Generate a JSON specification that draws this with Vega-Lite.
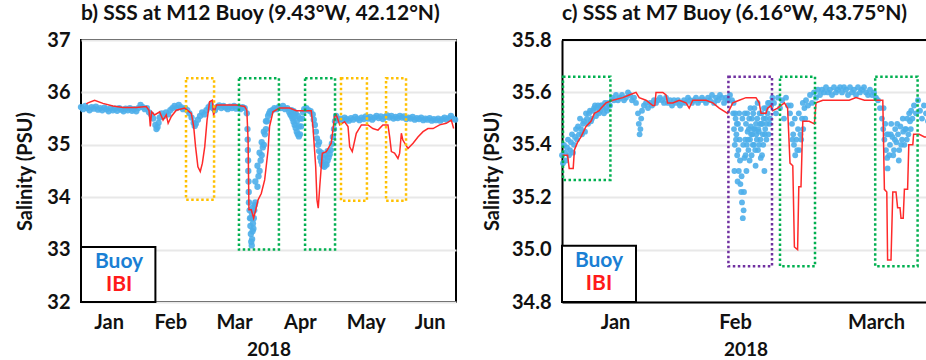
{
"$schema": "https://vega.github.io/schema/vega-lite/v6.json",
"padding": {"left": 14, "top": 2, "right": 0, "bottom": 0},
"spacing": 106,
"bounds": "flush",
"config": {
  "font": "Lato",
  "view": {"stroke": null},
  "axis": {"labelFont": "Lato", "labelFontWeight": "bold", "labelFontSize": 20, "labelColor": "#111", "titleFont": "Lato", "titleFontWeight": "bold", "titleColor": "#111", "ticks": false, "tickSize": 0, "domain": false, "grid": false},
  "title": {"font": "Lato", "fontWeight": "bold", "fontSize": 21, "color": "#111", "anchor": "start", "frame": "group", "offset": 6}
},
"datasets": {
  "buoyB": [
    {"day":0,"sss":35.72},{"day":1,"sss":35.68},{"day":2,"sss":35.74},{"day":3,"sss":35.70},{"day":4,"sss":35.66},{"day":5,"sss":35.72},{"day":6,"sss":35.69},{"day":7,"sss":35.73},{"day":8,"sss":35.67},{"day":9,"sss":35.70},
    {"day":10,"sss":35.66},{"day":11,"sss":35.71},{"day":12,"sss":35.68},{"day":13,"sss":35.64},{"day":14,"sss":35.70},{"day":15,"sss":35.66},{"day":16,"sss":35.69},{"day":17,"sss":35.65},{"day":18,"sss":35.70},{"day":19,"sss":35.67},
    {"day":20,"sss":35.64},{"day":21,"sss":35.69},{"day":22,"sss":35.66},{"day":23,"sss":35.70},{"day":24,"sss":35.65},{"day":25,"sss":35.68},{"day":26,"sss":35.64},{"day":27,"sss":35.70},{"day":28,"sss":35.76},{"day":29,"sss":35.72},
    {"day":30,"sss":35.68},{"day":31,"sss":35.70},{"day":32,"sss":35.62},{"day":33,"sss":35.58},{"day":34,"sss":35.50},{"day":35,"sss":35.38},{"day":35.5,"sss":35.30},{"day":36,"sss":35.34},{"day":36.5,"sss":35.42},{"day":37,"sss":35.52},
    {"day":38,"sss":35.60},{"day":39,"sss":35.55},{"day":40,"sss":35.62},{"day":41,"sss":35.58},{"day":42,"sss":35.66},{"day":43,"sss":35.70},{"day":44,"sss":35.74},{"day":45,"sss":35.70},{"day":46,"sss":35.76},{"day":47,"sss":35.72},
    {"day":48,"sss":35.68},{"day":49,"sss":35.70},{"day":50,"sss":35.66},{"day":51,"sss":35.60},{"day":52,"sss":35.52},{"day":53,"sss":35.42},{"day":53.5,"sss":35.36},{"day":54,"sss":35.40},{"day":55,"sss":35.48},{"day":56,"sss":35.55},
    {"day":57,"sss":35.62},{"day":58,"sss":35.58},{"day":59,"sss":35.66},{"day":60,"sss":35.72},{"day":61,"sss":35.76},{"day":62,"sss":35.70},{"day":63,"sss":35.66},{"day":64,"sss":35.72},{"day":65,"sss":35.75},{"day":66,"sss":35.70},
    {"day":67,"sss":35.74},{"day":68,"sss":35.71},{"day":69,"sss":35.68},{"day":70,"sss":35.73},{"day":71,"sss":35.70},{"day":72,"sss":35.74},{"day":73,"sss":35.69},{"day":74,"sss":35.72},{"day":75,"sss":35.68},{"day":76,"sss":35.72},
    {"day":77,"sss":35.70},{"day":78,"sss":35.60},{"day":78.3,"sss":35.30},{"day":78.4,"sss":35.10},{"day":78.5,"sss":34.90},{"day":78.6,"sss":34.70},{"day":78.7,"sss":34.50},{"day":78.8,"sss":34.30},{"day":78.9,"sss":34.10},
    {"day":79,"sss":33.90},{"day":79.3,"sss":33.75},{"day":79.5,"sss":33.60},{"day":79.7,"sss":33.45},{"day":79.9,"sss":33.30},{"day":80.1,"sss":33.15},{"day":80.3,"sss":33.08},{"day":80.5,"sss":33.20},{"day":80.7,"sss":33.35},{"day":80.9,"sss":33.50},
    {"day":81.1,"sss":33.40},{"day":81.3,"sss":33.60},{"day":81.5,"sss":33.75},{"day":81.7,"sss":33.85},{"day":80,"sss":33.60},{"day":80.4,"sss":33.70},{"day":80.8,"sss":33.80},
    {"day":82,"sss":33.90},{"day":82,"sss":34.30},{"day":83,"sss":34.20},{"day":83,"sss":34.60},{"day":83.5,"sss":34.40},{"day":84,"sss":34.50},{"day":84,"sss":34.85},{"day":84.5,"sss":34.70},{"day":85,"sss":34.80},{"day":85,"sss":35.05},
    {"day":85.5,"sss":34.95},{"day":86,"sss":35.00},{"day":86,"sss":35.25},{"day":86.5,"sss":35.20},{"day":87,"sss":35.30},{"day":87,"sss":35.45},{"day":87.5,"sss":35.45},{"day":88,"sss":35.55},{"day":88.5,"sss":35.60},{"day":89,"sss":35.64},
    {"day":90,"sss":35.66},{"day":91,"sss":35.70},{"day":92,"sss":35.68},{"day":93,"sss":35.72},{"day":94,"sss":35.70},{"day":95,"sss":35.74},{"day":96,"sss":35.68},{"day":97,"sss":35.70},{"day":98,"sss":35.62},{"day":98.5,"sss":35.58},
    {"day":99,"sss":35.55},{"day":99.5,"sss":35.50},{"day":100,"sss":35.44},{"day":100.5,"sss":35.38},{"day":101,"sss":35.32},{"day":101.5,"sss":35.25},{"day":102,"sss":35.20},{"day":102.5,"sss":35.16},{"day":103,"sss":35.20},{"day":103.5,"sss":35.35},
    {"day":99,"sss":35.66},{"day":100,"sss":35.64},{"day":101,"sss":35.60},{"day":102,"sss":35.55},{"day":103,"sss":35.50},{"day":100.5,"sss":35.55},{"day":101.5,"sss":35.45},{"day":102.5,"sss":35.35},
    {"day":104,"sss":35.50},{"day":104.5,"sss":35.62},{"day":105,"sss":35.68},{"day":106,"sss":35.70},{"day":107,"sss":35.66},{"day":108,"sss":35.64},{"day":109,"sss":35.58},{"day":109.5,"sss":35.48},{"day":110,"sss":35.38},{"day":110.5,"sss":35.25},
    {"day":111,"sss":35.12},{"day":111.5,"sss":35.00},{"day":112,"sss":34.88},{"day":112.5,"sss":34.76},{"day":113,"sss":34.68},{"day":113.5,"sss":34.62},{"day":114,"sss":34.60},{"day":114.5,"sss":34.58},{"day":115,"sss":34.64},{"day":115.5,"sss":34.62},
    {"day":112,"sss":35.05},{"day":113,"sss":34.85},{"day":114,"sss":34.75},{"day":115,"sss":34.80},{"day":116,"sss":34.88},
    {"day":116,"sss":34.70},{"day":116.5,"sss":34.76},{"day":117,"sss":34.82},{"day":117.5,"sss":34.90},{"day":118,"sss":35.02},{"day":118.5,"sss":35.15},{"day":119,"sss":35.30},{"day":119.5,"sss":35.45},{"day":120,"sss":35.55},{"day":121,"sss":35.48},
    {"day":122,"sss":35.50},{"day":123,"sss":35.47},{"day":124,"sss":35.52},{"day":125,"sss":35.49},{"day":126,"sss":35.46},{"day":127,"sss":35.51},{"day":128,"sss":35.48},{"day":129,"sss":35.53},{"day":130,"sss":35.50},{"day":131,"sss":35.47},
    {"day":132,"sss":35.52},{"day":133,"sss":35.49},{"day":134,"sss":35.54},{"day":135,"sss":35.50},{"day":136,"sss":35.53},{"day":137,"sss":35.48},{"day":138,"sss":35.52},{"day":139,"sss":35.55},{"day":140,"sss":35.51},{"day":141,"sss":35.54},
    {"day":142,"sss":35.49},{"day":143,"sss":35.53},{"day":144,"sss":35.56},{"day":145,"sss":35.52},{"day":146,"sss":35.55},{"day":147,"sss":35.50},{"day":148,"sss":35.53},{"day":149,"sss":35.51},{"day":150,"sss":35.55},{"day":151,"sss":35.52},
    {"day":152,"sss":35.54},{"day":153,"sss":35.49},{"day":154,"sss":35.52},{"day":155,"sss":35.50},{"day":156,"sss":35.53},{"day":157,"sss":35.48},{"day":158,"sss":35.51},{"day":159,"sss":35.49},{"day":160,"sss":35.52},{"day":161,"sss":35.47},
    {"day":162,"sss":35.50},{"day":163,"sss":35.48},{"day":164,"sss":35.51},{"day":165,"sss":35.46},{"day":166,"sss":35.49},{"day":167,"sss":35.47},{"day":168,"sss":35.50},{"day":169,"sss":35.46},{"day":170,"sss":35.49},{"day":171,"sss":35.52},
    {"day":172,"sss":35.48},{"day":173,"sss":35.51},{"day":174,"sss":35.55},{"day":175,"sss":35.50},{"day":176,"sss":35.48}
  ],
  "ibiB": [
    {"day":2.5,"sss":35.78},{"day":3.3,"sss":35.80},{"day":6.4,"sss":35.85},{"day":10.3,"sss":35.79},{"day":15,"sss":35.74},{"day":19.8,"sss":35.71},{"day":26,"sss":35.71},{"day":30.7,"sss":35.73},{"day":32,"sss":35.66},{"day":32.6,"sss":35.35},
    {"day":33.2,"sss":35.63},{"day":34.6,"sss":35.57},{"day":37,"sss":35.63},{"day":38.6,"sss":35.47},{"day":40.1,"sss":35.57},{"day":41,"sss":35.41},{"day":42.5,"sss":35.54},{"day":44.8,"sss":35.66},{"day":48.8,"sss":35.70},{"day":51.9,"sss":35.60},
    {"day":53,"sss":35.35},{"day":53.9,"sss":34.96},{"day":55,"sss":34.58},{"day":56.1,"sss":34.49},{"day":57.1,"sss":34.65},{"day":58.2,"sss":34.96},{"day":59.3,"sss":35.47},{"day":60.5,"sss":35.82},{"day":61.8,"sss":35.85},{"day":62.4,"sss":35.55},
    {"day":62.9,"sss":35.66},{"day":63.7,"sss":35.76},{"day":66.8,"sss":35.76},{"day":73,"sss":35.76},{"day":77,"sss":35.73},{"day":78,"sss":35.66},{"day":78.6,"sss":35.09},{"day":79,"sss":33.76},{"day":80.1,"sss":33.76},{"day":81.2,"sss":33.60},
    {"day":82.2,"sss":33.76},{"day":83.3,"sss":33.95},{"day":84.8,"sss":34.07},{"day":86.4,"sss":34.33},{"day":88,"sss":34.90},{"day":88.7,"sss":35.35},{"day":90.3,"sss":35.63},{"day":93.4,"sss":35.70},{"day":98.1,"sss":35.70},{"day":101.3,"sss":35.65},
    {"day":108.3,"sss":35.65},{"day":109.1,"sss":35.35},{"day":110.4,"sss":34.58},{"day":111,"sss":33.95},{"day":111.6,"sss":33.79},{"day":112.3,"sss":34.20},{"day":113.5,"sss":34.84},{"day":115.4,"sss":34.87},{"day":117.7,"sss":35.03},{"day":119.3,"sss":35.54},
    {"day":120.1,"sss":35.57},{"day":121.7,"sss":35.38},{"day":124,"sss":35.44},{"day":125.6,"sss":35.35},{"day":126.4,"sss":34.96},{"day":127.6,"sss":34.87},{"day":129.5,"sss":35.22},{"day":131.9,"sss":35.38},{"day":135,"sss":35.38},{"day":137.3,"sss":35.31},
    {"day":139.7,"sss":35.28},{"day":142,"sss":35.38},{"day":144.4,"sss":35.38},{"day":145.2,"sss":35.15},{"day":146,"sss":34.87},{"day":147.5,"sss":34.84},{"day":149.1,"sss":34.74},{"day":149.9,"sss":34.84},{"day":150.7,"sss":35.22},{"day":151.4,"sss":35.09},
    {"day":153.8,"sss":34.93},{"day":156.2,"sss":35.03},{"day":158.5,"sss":35.15},{"day":160.9,"sss":35.25},{"day":163.2,"sss":35.31},{"day":165.6,"sss":35.31},{"day":168.7,"sss":35.38},{"day":171.8,"sss":35.41},{"day":174.2,"sss":35.47},{"day":175.3,"sss":35.31}
  ],
  "boxesB": [
    {"set":"A","start":49.4,"end":62.6,"low":33.95,"high":36.27},
    {"set":"B","start":74.3,"end":93.1,"low":33.0,"high":36.27},
    {"set":"B","start":105.4,"end":119.5,"low":33.0,"high":36.27},
    {"set":"A","start":122.3,"end":134.5,"low":33.93,"high":36.27},
    {"set":"A","start":143.5,"end":152.9,"low":33.93,"high":36.27}
  ],
  "buoyC": [
    {"day":0,"sss":35.36},{"day":0.5,"sss":35.40},{"day":1,"sss":35.34},{"day":1.5,"sss":35.42},{"day":2,"sss":35.38},{"day":2.5,"sss":35.44},{"day":3,"sss":35.40},{"day":3.5,"sss":35.46},{"day":4,"sss":35.47},{"day":4.5,"sss":35.50},
    {"day":5,"sss":35.44},{"day":5.5,"sss":35.49},{"day":6,"sss":35.52},{"day":6.5,"sss":35.48},{"day":7,"sss":35.53},{"day":7.5,"sss":35.50},{"day":8,"sss":35.54},{"day":8.5,"sss":35.51},{"day":9,"sss":35.55},{"day":9.5,"sss":35.53},
    {"day":0.25,"sss":35.33},{"day":0.75,"sss":35.37},{"day":1.25,"sss":35.39},{"day":1.75,"sss":35.36},{"day":2.25,"sss":35.41},{"day":2.75,"sss":35.37},{"day":3.25,"sss":35.43},{"day":3.75,"sss":35.42},{"day":4.25,"sss":35.44},{"day":4.75,"sss":35.46},
    {"day":5.25,"sss":35.48},{"day":5.75,"sss":35.45},{"day":6.25,"sss":35.50},{"day":6.75,"sss":35.52},{"day":7.25,"sss":35.49},{"day":7.75,"sss":35.53},{"day":8.25,"sss":35.55},{"day":8.75,"sss":35.54},{"day":9.25,"sss":35.52},{"day":9.75,"sss":35.55},
    {"day":10.25,"sss":35.54},{"day":10.75,"sss":35.56},{"day":11.25,"sss":35.53},{"day":11.75,"sss":35.55},
    {"day":10,"sss":35.55},{"day":10.5,"sss":35.52},{"day":11,"sss":35.54},{"day":11.5,"sss":35.56},{"day":12,"sss":35.55},{"day":12.5,"sss":35.58},{"day":13,"sss":35.57},{"day":13.5,"sss":35.59},{"day":14,"sss":35.57},{"day":14.5,"sss":35.58},
    {"day":15,"sss":35.59},{"day":15.5,"sss":35.57},{"day":16,"sss":35.58},{"day":16.5,"sss":35.60},{"day":17,"sss":35.59},{"day":17.5,"sss":35.57},{"day":18,"sss":35.58},{"day":18.5,"sss":35.56},{"day":19,"sss":35.52},{"day":19.2,"sss":35.48},
    {"day":19.4,"sss":35.44},{"day":19.6,"sss":35.46},{"day":19.8,"sss":35.50},{"day":20,"sss":35.53},{"day":20.5,"sss":35.55},{"day":21,"sss":35.56},{"day":21.5,"sss":35.54},{"day":22,"sss":35.56},{"day":22.5,"sss":35.55},{"day":23,"sss":35.57},
    {"day":23.5,"sss":35.56},{"day":24,"sss":35.57},{"day":24.5,"sss":35.58},{"day":25,"sss":35.57},{"day":25.5,"sss":35.56},{"day":26,"sss":35.58},{"day":26.5,"sss":35.56},{"day":27,"sss":35.57},{"day":27.5,"sss":35.55},{"day":28,"sss":35.57},
    {"day":28.5,"sss":35.56},{"day":29,"sss":35.57},{"day":29.5,"sss":35.55},{"day":30,"sss":35.56},{"day":30.5,"sss":35.57},{"day":31,"sss":35.56},{"day":31.5,"sss":35.58},{"day":32,"sss":35.57},{"day":32.5,"sss":35.56},{"day":33,"sss":35.57},
    {"day":33.5,"sss":35.58},{"day":34,"sss":35.56},{"day":34.5,"sss":35.57},{"day":35,"sss":35.58},{"day":35.5,"sss":35.57},{"day":36,"sss":35.56},{"day":36.5,"sss":35.58},{"day":37,"sss":35.57},{"day":37.5,"sss":35.59},{"day":38,"sss":35.56},
    {"day":38.5,"sss":35.58},{"day":39,"sss":35.57},{"day":39.5,"sss":35.59},{"day":40,"sss":35.58},{"day":40.5,"sss":35.56},{"day":41,"sss":35.58},{"day":41.5,"sss":35.57},{"day":42,"sss":35.59},{"day":42.5,"sss":35.57},
    {"day":42.8,"sss":35.52},{"day":43,"sss":35.46},{"day":43.2,"sss":35.40},{"day":43.4,"sss":35.50},{"day":43.6,"sss":35.44},{"day":43.8,"sss":35.36},{"day":44,"sss":35.48},{"day":44.2,"sss":35.30},{"day":44.4,"sss":35.42},{"day":44.6,"sss":35.25},
    {"day":44.8,"sss":35.22},{"day":45,"sss":35.18},{"day":45.2,"sss":35.12},{"day":45.4,"sss":35.15},{"day":45.6,"sss":35.35},{"day":45.8,"sss":35.42},{"day":46,"sss":35.48},{"day":46.2,"sss":35.40},{"day":46.4,"sss":35.45},{"day":46.6,"sss":35.38},
    {"day":46.8,"sss":35.50},{"day":47,"sss":35.42},{"day":47.2,"sss":35.47},{"day":47.4,"sss":35.36},{"day":47.6,"sss":35.44},{"day":47.8,"sss":35.52},{"day":48,"sss":35.40},{"day":48.2,"sss":35.46},{"day":48.4,"sss":35.32},{"day":48.6,"sss":35.44},
    {"day":48.8,"sss":35.50},{"day":49,"sss":35.38},{"day":49.2,"sss":35.45},{"day":49.4,"sss":35.52},{"day":49.6,"sss":35.42},{"day":49.8,"sss":35.48},{"day":50,"sss":35.36},{"day":50.2,"sss":35.44},{"day":50.4,"sss":35.50},{"day":50.6,"sss":35.30},
    {"day":50.8,"sss":35.46},{"day":51,"sss":35.54},{"day":51.2,"sss":35.48},{"day":51.4,"sss":35.52},{"day":51.6,"sss":35.44},{"day":51.8,"sss":35.56},{"day":52,"sss":35.50},{"day":52.3,"sss":35.55},{"day":52.6,"sss":35.58},
    {"day":42.9,"sss":35.56},{"day":43.1,"sss":35.30},{"day":43.3,"sss":35.52},{"day":43.5,"sss":35.42},{"day":43.7,"sss":35.48},{"day":43.9,"sss":35.26},{"day":44.1,"sss":35.38},{"day":44.3,"sss":35.52},{"day":44.5,"sss":35.34},{"day":44.7,"sss":35.46},
    {"day":44.9,"sss":35.28},{"day":45.1,"sss":35.50},{"day":45.3,"sss":35.40},{"day":45.5,"sss":35.22},{"day":45.7,"sss":35.52},{"day":45.9,"sss":35.36},{"day":46.1,"sss":35.30},{"day":46.3,"sss":35.52},{"day":46.5,"sss":35.42},{"day":46.7,"sss":35.46},
    {"day":46.9,"sss":35.34},{"day":47.1,"sss":35.54},{"day":47.3,"sss":35.44},{"day":47.5,"sss":35.50},{"day":47.7,"sss":35.40},{"day":47.9,"sss":35.46},{"day":48.1,"sss":35.54},{"day":48.3,"sss":35.38},{"day":48.5,"sss":35.48},{"day":48.7,"sss":35.42},
    {"day":48.9,"sss":35.56},{"day":49.1,"sss":35.46},{"day":49.3,"sss":35.40},{"day":49.5,"sss":35.48},{"day":49.7,"sss":35.35},{"day":49.9,"sss":35.52},{"day":50.1,"sss":35.48},{"day":50.3,"sss":35.40},{"day":50.5,"sss":35.54},{"day":50.7,"sss":35.44},
    {"day":50.9,"sss":35.50},{"day":51.1,"sss":35.42},{"day":51.5,"sss":35.56},{"day":51.9,"sss":35.48},
    {"day":53,"sss":35.56},{"day":53.5,"sss":35.52},{"day":54,"sss":35.58},{"day":54.5,"sss":35.54},{"day":55,"sss":35.57},{"day":55.5,"sss":35.50},{"day":56,"sss":35.58},{"day":56.5,"sss":35.55},{"day":57,"sss":35.52},{"day":57.5,"sss":35.48},
    {"day":57.8,"sss":35.44},{"day":58,"sss":35.40},{"day":58.3,"sss":35.36},{"day":58.6,"sss":35.42},{"day":59,"sss":35.46},{"day":59.3,"sss":35.38},{"day":59.6,"sss":35.44},{"day":60,"sss":35.50},{"day":60.3,"sss":35.46},{"day":60.6,"sss":35.54},
    {"day":57.2,"sss":35.55},{"day":57.6,"sss":35.42},{"day":58.2,"sss":35.50},{"day":58.8,"sss":35.38},{"day":59.2,"sss":35.52},{"day":59.8,"sss":35.42},{"day":60.2,"sss":35.56},{"day":60.8,"sss":35.50},
    {"day":61,"sss":35.57},{"day":61.5,"sss":35.55},{"day":62,"sss":35.59},{"day":62.5,"sss":35.56},{"day":63,"sss":35.60},{"day":63.5,"sss":35.58},{"day":64,"sss":35.61},{"day":64.5,"sss":35.59},{"day":65,"sss":35.61},{"day":65.5,"sss":35.60},
    {"day":66,"sss":35.62},{"day":66.5,"sss":35.60},{"day":67,"sss":35.61},{"day":67.5,"sss":35.59},{"day":68,"sss":35.62},{"day":68.5,"sss":35.60},{"day":69,"sss":35.61},{"day":69.5,"sss":35.62},{"day":70,"sss":35.60},{"day":70.5,"sss":35.62},
    {"day":71,"sss":35.61},{"day":71.5,"sss":35.59},{"day":72,"sss":35.62},{"day":72.5,"sss":35.60},{"day":73,"sss":35.61},{"day":73.5,"sss":35.59},{"day":74,"sss":35.62},{"day":74.5,"sss":35.60},{"day":75,"sss":35.61},{"day":75.5,"sss":35.62},
    {"day":76,"sss":35.60},{"day":76.5,"sss":35.59},{"day":77,"sss":35.61},{"day":77.5,"sss":35.59},{"day":78,"sss":35.60},{"day":78.5,"sss":35.58},{"day":79,"sss":35.57},{"day":79.5,"sss":35.54},{"day":80,"sss":35.50},{"day":80.3,"sss":35.46},
    {"day":80.6,"sss":35.42},{"day":81,"sss":35.38},{"day":81.3,"sss":35.35},{"day":81.6,"sss":35.44},{"day":82,"sss":35.40},{"day":82.3,"sss":35.48},{"day":82.6,"sss":35.43},{"day":83,"sss":35.38},{"day":83.3,"sss":35.46},{"day":83.6,"sss":35.41},
    {"day":84,"sss":35.44},{"day":84.3,"sss":35.38},{"day":84.6,"sss":35.47},{"day":85,"sss":35.42},{"day":85.3,"sss":35.45},{"day":85.6,"sss":35.40},{"day":86,"sss":35.46},{"day":86.3,"sss":35.50},{"day":86.6,"sss":35.44},{"day":87,"sss":35.49},
    {"day":80.4,"sss":35.54},{"day":80.8,"sss":35.48},{"day":81.2,"sss":35.44},{"day":81.4,"sss":35.31},{"day":81.8,"sss":35.36},{"day":82.2,"sss":35.44},{"day":82.8,"sss":35.36},{"day":83.2,"sss":35.42},{"day":83.8,"sss":35.48},{"day":84.2,"sss":35.34},
    {"day":84.8,"sss":35.40},{"day":85.2,"sss":35.50},{"day":85.8,"sss":35.46},{"day":86.2,"sss":35.42},{"day":86.8,"sss":35.52},{"day":87.2,"sss":35.46},
    {"day":87.3,"sss":35.53},{"day":87.6,"sss":35.50},{"day":88,"sss":35.55},{"day":88.5,"sss":35.52},{"day":89,"sss":35.57},{"day":89.5,"sss":35.53},{"day":90,"sss":35.50},{"day":90.5,"sss":35.55},{"day":91,"sss":35.52},{"day":91.5,"sss":35.49}
  ],
  "ibiC": [
    {"day":0.17,"sss":35.36},{"day":1.4,"sss":35.36},{"day":1.8,"sss":35.31},{"day":2.8,"sss":35.31},{"day":3.1,"sss":35.38},{"day":3.9,"sss":35.41},{"day":4.75,"sss":35.43},{"day":6,"sss":35.47},{"day":7.25,"sss":35.49},{"day":8.1,"sss":35.52},
    {"day":9.3,"sss":35.53},{"day":9.75,"sss":35.54},{"day":11,"sss":35.56},{"day":12.7,"sss":35.57},{"day":15.2,"sss":35.58},{"day":16.8,"sss":35.59},{"day":18.5,"sss":35.60},{"day":19.3,"sss":35.58},{"day":21,"sss":35.57},{"day":22.7,"sss":35.55},
    {"day":23.2,"sss":35.55},{"day":23.5,"sss":35.60},{"day":25.2,"sss":35.60},{"day":26,"sss":35.59},{"day":26.4,"sss":35.56},{"day":27.7,"sss":35.56},{"day":29.3,"sss":35.57},{"day":31,"sss":35.56},{"day":31.8,"sss":35.54},{"day":32.7,"sss":35.57},
    {"day":36,"sss":35.57},{"day":37.7,"sss":35.56},{"day":39.3,"sss":35.54},{"day":41.4,"sss":35.52},{"day":42.7,"sss":35.56},{"day":44.3,"sss":35.57},{"day":46,"sss":35.58},{"day":48.5,"sss":35.58},{"day":49.3,"sss":35.56},{"day":49.75,"sss":35.52},
    {"day":51,"sss":35.52},{"day":51.4,"sss":35.54},{"day":52.25,"sss":35.55},{"day":52.7,"sss":35.53},{"day":53.9,"sss":35.54},{"day":55.6,"sss":35.56},{"day":56.4,"sss":35.54},{"day":57,"sss":35.33},{"day":57.7,"sss":35.32},{"day":58.1,"sss":35.01},
    {"day":58.9,"sss":35.00},{"day":59.2,"sss":35.24},{"day":59.75,"sss":35.24},{"day":60.2,"sss":35.49},{"day":61,"sss":35.49},{"day":61.8,"sss":35.49},{"day":63.1,"sss":35.48},{"day":63.5,"sss":35.56},{"day":65.2,"sss":35.57},{"day":66.8,"sss":35.57},
    {"day":68.5,"sss":35.57},{"day":70.2,"sss":35.57},{"day":71.8,"sss":35.57},{"day":73.5,"sss":35.58},{"day":75.6,"sss":35.57},{"day":77.25,"sss":35.57},{"day":80.2,"sss":35.57},{"day":80.6,"sss":35.23},{"day":81.2,"sss":35.22},{"day":81.4,"sss":34.96},
    {"day":82.25,"sss":34.96},{"day":82.7,"sss":35.22},{"day":83.5,"sss":35.22},{"day":83.9,"sss":35.16},{"day":84.5,"sss":35.16},{"day":84.75,"sss":35.12},{"day":85.3,"sss":35.12},{"day":85.6,"sss":35.23},{"day":86.4,"sss":35.23},{"day":86.7,"sss":35.40},
    {"day":87.7,"sss":35.40},{"day":87.9,"sss":35.44},{"day":89.3,"sss":35.44},{"day":90.6,"sss":35.43},{"day":91.8,"sss":35.43}
  ],
  "boxesC": [
    {"set":"B","start":0.25,"end":12.1,"low":35.266,"high":35.66},
    {"set":"C","start":41.6,"end":52.5,"low":34.936,"high":35.66},
    {"set":"B","start":54.5,"end":63.25,"low":34.936,"high":35.66},
    {"set":"B","start":78.3,"end":88.9,"low":34.936,"high":35.66}
  ]
},
"hconcat": [
  {
    "width": 375, "height": 262,
    "title": {"text": "b) SSS at M12 Buoy (9.43°W, 42.12°N)"},
    "view": {"stroke": "#000", "strokeWidth": 2},
    "layer": [
      {"data": {"name": "buoyB"}, "mark": {"type": "circle", "size": 40, "color": "#4daeea", "opacity": 0.9},
       "encoding": {
         "x": {"field": "day", "type": "quantitative", "scale": {"domain": [0, 176.4], "nice": false, "zero": false},
               "axis": {"title": "2018", "values": [13, 42, 72, 103, 134, 164], "labelExpr": "datum.value < 20 ? 'Jan' : datum.value < 50 ? 'Feb' : datum.value < 80 ? 'Mar' : datum.value < 110 ? 'Apr' : datum.value < 140 ? 'May' : 'Jun'", "labelPadding": 10, "titlePadding": 8, "titleFontSize": 19}},
         "y": {"field": "sss", "type": "quantitative", "scale": {"domain": [32, 37], "nice": false, "zero": false},
               "axis": {"title": "Salinity (PSU)", "values": [32, 33, 34, 35, 36, 37], "grid": true, "gridColor": "#e8e8e8", "gridWidth": 2, "labelPadding": 11, "titlePadding": 11, "titleFontSize": 20}}
       }},
      {"data": {"name": "ibiB"}, "mark": {"type": "line", "color": "#ff2a2a", "strokeWidth": 1.5},
       "encoding": {"x": {"field": "day", "type": "quantitative"}, "y": {"field": "sss", "type": "quantitative"}}},
      {"data": {"name": "boxesB"}, "mark": {"type": "rect", "fillOpacity": 0, "strokeWidth": 2.5, "strokeDash": [2.5, 2.5]},
       "encoding": {"x": {"field": "start", "type": "quantitative"}, "x2": {"field": "end"}, "y": {"field": "low", "type": "quantitative"}, "y2": {"field": "high"},
         "stroke": {"field": "set", "type": "nominal", "scale": {"domain": ["A", "B", "C"], "range": ["#ffc000", "#00b050", "#7030a0"]}, "legend": null}}},
      {"data": {"values": [{"start": 0, "end": 35, "low": 32, "high": 33.05}]}, "mark": {"type": "rect", "fill": "#ffffff", "stroke": "#000", "strokeWidth": 2},
       "encoding": {"x": {"field": "start", "type": "quantitative"}, "x2": {"field": "end"}, "y": {"field": "low", "type": "quantitative"}, "y2": {"field": "high"}}},
      {"data": {"values": [{"day": 17.9, "sss": 32.76, "label": "Buoy"}, {"day": 17.9, "sss": 32.32, "label": "IBI"}]},
       "mark": {"type": "text", "font": "Lato", "fontWeight": "bold", "fontSize": 21, "baseline": "middle", "align": "center"},
       "encoding": {"x": {"field": "day", "type": "quantitative"}, "y": {"field": "sss", "type": "quantitative"}, "text": {"field": "label"},
         "color": {"field": "label", "type": "nominal", "scale": {"domain": ["Buoy", "IBI"], "range": ["#1a7fd4", "#ff1a1a"]}, "legend": null}}}
    ]
  },
  {
    "width": 367, "height": 262,
    "title": {"text": "c) SSS at M7 Buoy (6.16°W, 43.75°N)"},
    "view": {"stroke": null},
    "layer": [
      {"data": {"name": "buoyC"}, "mark": {"type": "circle", "size": 34, "color": "#4daeea", "opacity": 0.9},
       "encoding": {
         "x": {"field": "day", "type": "quantitative", "scale": {"domain": [0, 91.75], "nice": false, "zero": false},
               "axis": {"title": "2018", "values": [13.25, 43.25, 78.5], "labelExpr": "datum.value < 30 ? 'Jan' : datum.value < 60 ? 'Feb' : 'March'", "labelPadding": 10, "titlePadding": 8, "titleFontSize": 19, "domain": true, "domainColor": "#000", "domainWidth": 2}},
         "y": {"field": "sss", "type": "quantitative", "scale": {"domain": [34.8, 35.8], "nice": false, "zero": false},
               "axis": {"title": "Salinity (PSU)", "values": [34.8, 35.0, 35.2, 35.4, 35.6, 35.8], "format": ".1f", "grid": true, "gridColor": "#e8e8e8", "gridWidth": 2, "labelPadding": 11, "titlePadding": 9, "titleFontSize": 20, "domain": true, "domainColor": "#000", "domainWidth": 2}}
       }},
      {"data": {"name": "ibiC"}, "mark": {"type": "line", "color": "#ff2a2a", "strokeWidth": 1.5},
       "encoding": {"x": {"field": "day", "type": "quantitative"}, "y": {"field": "sss", "type": "quantitative"}}},
      {"data": {"name": "boxesC"}, "mark": {"type": "rect", "fillOpacity": 0, "strokeWidth": 2.5, "strokeDash": [2.5, 2.5]},
       "encoding": {"x": {"field": "start", "type": "quantitative"}, "x2": {"field": "end"}, "y": {"field": "low", "type": "quantitative"}, "y2": {"field": "high"},
         "stroke": {"field": "set", "type": "nominal", "scale": {"domain": ["A", "B", "C"], "range": ["#ffc000", "#00b050", "#7030a0"]}, "legend": null}}},
      {"data": {"values": [{"start": 0, "end": 18.5, "low": 34.8, "high": 35.015}]}, "mark": {"type": "rect", "fill": "#ffffff", "stroke": "#000", "strokeWidth": 2},
       "encoding": {"x": {"field": "start", "type": "quantitative"}, "x2": {"field": "end"}, "y": {"field": "low", "type": "quantitative"}, "y2": {"field": "high"}}},
      {"data": {"values": [{"day": 9.25, "sss": 34.956, "label": "Buoy"}, {"day": 9.25, "sss": 34.869, "label": "IBI"}]},
       "mark": {"type": "text", "font": "Lato", "fontWeight": "bold", "fontSize": 21, "baseline": "middle", "align": "center"},
       "encoding": {"x": {"field": "day", "type": "quantitative"}, "y": {"field": "sss", "type": "quantitative"}, "text": {"field": "label"},
         "color": {"field": "label", "type": "nominal", "scale": {"domain": ["Buoy", "IBI"], "range": ["#1a7fd4", "#ff1a1a"]}, "legend": null}}},
      {"data": {"values": [{"top": 35.8}]}, "mark": {"type": "rule", "color": "#000", "strokeWidth": 2},
       "encoding": {"y": {"field": "top", "type": "quantitative"}}}
    ]
  }
]
}
